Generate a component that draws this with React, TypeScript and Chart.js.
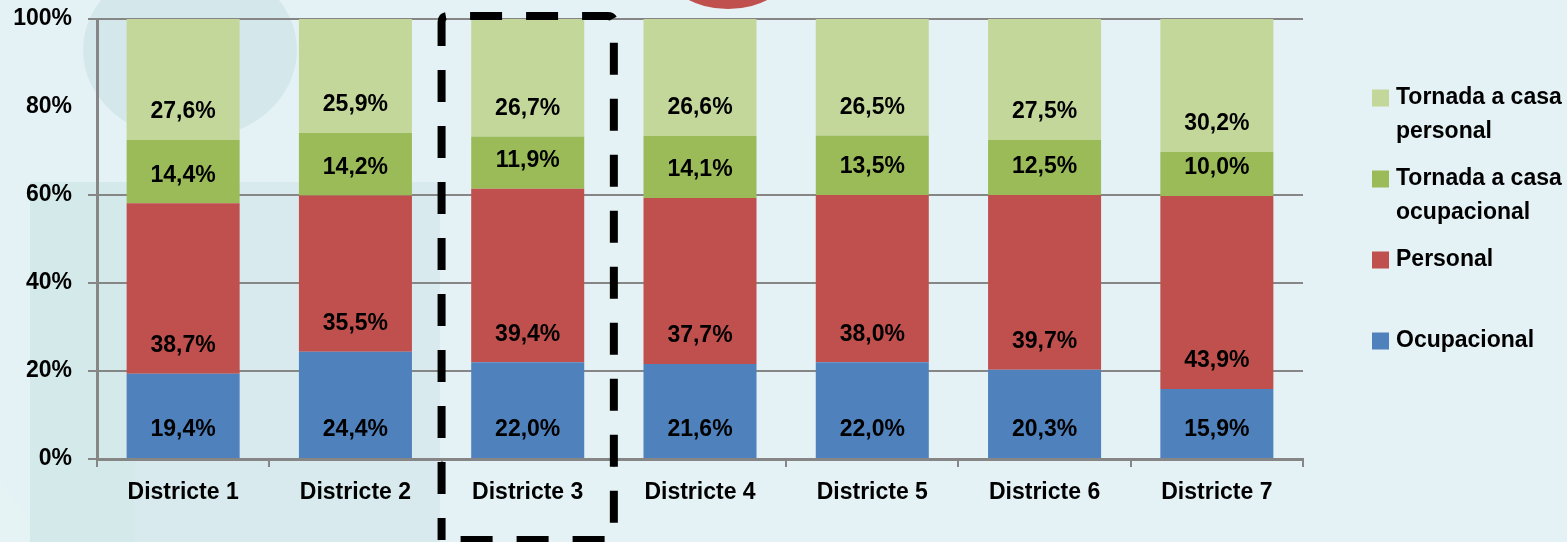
import React, { useEffect, useRef } from "react";
import { Chart, registerables } from "chart.js";

Chart.register(...registerables);

const categories = ["Districte 1", "Districte 2", "Districte 3", "Districte 4", "Districte 5", "Districte 6", "Districte 7"];
const ocupacional = [19.4, 24.4, 22.0, 21.6, 22.0, 20.3, 15.9];
const personal = [38.7, 35.5, 39.4, 37.7, 38.0, 39.7, 43.9];
const tornadaOcupacional = [14.4, 14.2, 11.9, 14.1, 13.5, 12.5, 10.0];
const tornadaPersonal = [27.6, 25.9, 26.7, 26.6, 26.5, 27.5, 30.2];
const yTicks = [0, 20, 40, 60, 80, 100];
const hiddenGridTick = 80;
const highlightedIndex = 2;

const legendEntries = [
  { lines: ["Tornada a casa", "personal"], color: "#c4d79b" },
  { lines: ["Tornada a casa", "ocupacional"], color: "#9bbb59" },
  { lines: ["Personal"], color: "#c0504d" },
  { lines: ["Ocupacional"], color: "#4f81bd" },
];

const FONT = "'Liberation Sans', Arial, sans-serif";
const AXIS = "#868686";

const bgPlugin = {
  id: "bgDeco",
  beforeDraw(chart: any) {
    const { ctx, width, height } = chart;
    ctx.save();
    ctx.fillStyle = "#e4f1f5";
    ctx.fillRect(0, 0, width, height);
    ctx.fillStyle = "rgba(205,228,230,0.55)";
    ctx.fillRect(135, 182, 305, height - 182);
    ctx.fillStyle = "#d4e9ea";
    ctx.fillRect(30, 182, 105, height - 182);
    ctx.fillStyle = "#e6f3f4";
    ctx.beginPath();
    ctx.moveTo(0, 480);
    ctx.lineTo(30, 520);
    ctx.lineTo(30, height);
    ctx.lineTo(0, height);
    ctx.closePath();
    ctx.fill();
    ctx.fillStyle = "#d4e8eb";
    ctx.beginPath();
    ctx.ellipse(190, 50, 107, 90, 0, 0, Math.PI * 2);
    ctx.fill();
    ctx.fillStyle = "#c0504d";
    ctx.beginPath();
    ctx.ellipse(728, -31, 62, 40, 0, 0, Math.PI * 2);
    ctx.fill();
    ctx.restore();
  },
};

const labelPlugin = {
  id: "segLabels",
  afterDatasetsDraw(chart: any) {
    const { ctx } = chart;
    ctx.save();
    ctx.font = `bold 23px ${FONT}`;
    ctx.fillStyle = "#000";
    ctx.textAlign = "center";
    ctx.textBaseline = "middle";
    chart.data.datasets.forEach((ds: any, di: number) => {
      const meta = chart.getDatasetMeta(di);
      meta.data.forEach((el: any, i: number) => {
        const v = ds.data[i];
        const txt = v.toFixed(1).replace(".", ",") + "%";
        ctx.fillText(txt, el.x, el.base - 28);
      });
    });
    ctx.restore();
  },
};

const overlayPlugin = {
  id: "overlay",
  afterDraw(chart: any) {
    const { ctx, scales, chartArea } = chart;
    const x = scales.x;
    const half = (x.getPixelForValue(1) - x.getPixelForValue(0)) / 2;
    const cx = x.getPixelForValue(highlightedIndex);
    const l = cx - half, r = cx + half, t = chartArea.top - 3, b = 540;
    ctx.save();
    ctx.strokeStyle = "#000";
    ctx.lineWidth = 8;
    ctx.setLineDash([32, 24]);
    ctx.lineDashOffset = 10;
    ctx.beginPath();
    const rad = 6;
    ctx.moveTo(l, b);
    ctx.lineTo(l, t + rad);
    ctx.quadraticCurveTo(l, t, l + rad, t);
    ctx.lineTo(r - rad, t);
    ctx.quadraticCurveTo(r, t, r, t + rad);
    ctx.lineTo(r, b - rad);
    ctx.quadraticCurveTo(r, b, r - rad, b);
    ctx.lineTo(l + rad, b);
    ctx.quadraticCurveTo(l, b, l, b - rad);
    ctx.stroke();
    ctx.restore();

    // legend
    ctx.save();
    ctx.font = `bold 23px ${FONT}`;
    ctx.textBaseline = "middle";
    ctx.textAlign = "left";
    const startY = 98;
    const step = 81;
    legendEntries.forEach((e, i) => {
      const cy = startY + i * step;
      ctx.fillStyle = e.color;
      ctx.fillRect(1372, cy - 8.5, 17, 17);
      ctx.fillStyle = "#000";
      e.lines.forEach((ln, j) => {
        ctx.fillText(ln, 1396, cy + j * 34);
      });
    });
    ctx.restore();
  },
};

export default function App() {
  const ref = useRef<HTMLCanvasElement | null>(null);
  useEffect(() => {
    if (!ref.current) return;
    const mk = (label: string, data: number[], color: string) => ({
      label,
      data,
      backgroundColor: color,
      borderWidth: 0,
      categoryPercentage: 1,
      barPercentage: 0.656,
    });
    const chart = new Chart(ref.current, {
      type: "bar",
      data: {
        labels: categories,
        datasets: [
          mk("Ocupacional", ocupacional, "#4f81bd"),
          mk("Personal", personal, "#c0504d"),
          mk("Tornada a casa ocupacional", tornadaOcupacional, "#9bbb59"),
          mk("Tornada a casa personal", tornadaPersonal, "#c4d79b"),
        ],
      },
      options: {
        animation: false,
        responsive: false,
        layout: { padding: { top: 19, right: 264, left: 0, bottom: 0 } },
        plugins: { legend: { display: false }, tooltip: { enabled: false } },
        scales: {
          x: {
            stacked: true,
            afterFit: (s: any) => { s.height = 83; s.paddingLeft = 0; s.paddingRight = 0; },
            grid: { drawOnChartArea: false, drawTicks: true, tickLength: 8, color: AXIS, lineWidth: 2, offset: true },
            border: { color: AXIS, width: 3 },
            ticks: { color: "#000", font: { family: FONT, size: 23, weight: "bold" }, padding: 12 },
          },
          y: {
            stacked: true,
            min: 0,
            max: 100,
            afterFit: (s: any) => { s.width = 97; s.paddingTop = 0; s.paddingBottom = 0; },
            afterBuildTicks: (s: any) => { s.ticks = yTicks.map((v) => ({ value: v })); },
            grid: {
              color: (c: any) => (c.tick && c.tick.value === hiddenGridTick ? "rgba(0,0,0,0)" : AXIS),
              lineWidth: 2,
              tickLength: 9,
            },
            border: { color: AXIS, width: 3 },
            ticks: {
              color: "#000",
              font: { family: FONT, size: 23, weight: "bold" },
              padding: 16,
              callback: (v: any) => v + "%",
            },
          },
        },
      },
      plugins: [bgPlugin, labelPlugin, overlayPlugin],
    });
    return () => chart.destroy();
  }, []);
  return (
    <div style={{ position: "absolute", left: 0, top: 0, width: 1567, height: 542 }}>
      <canvas ref={ref} width={1567} height={542} style={{ display: "block" }} />
    </div>
  );
}
